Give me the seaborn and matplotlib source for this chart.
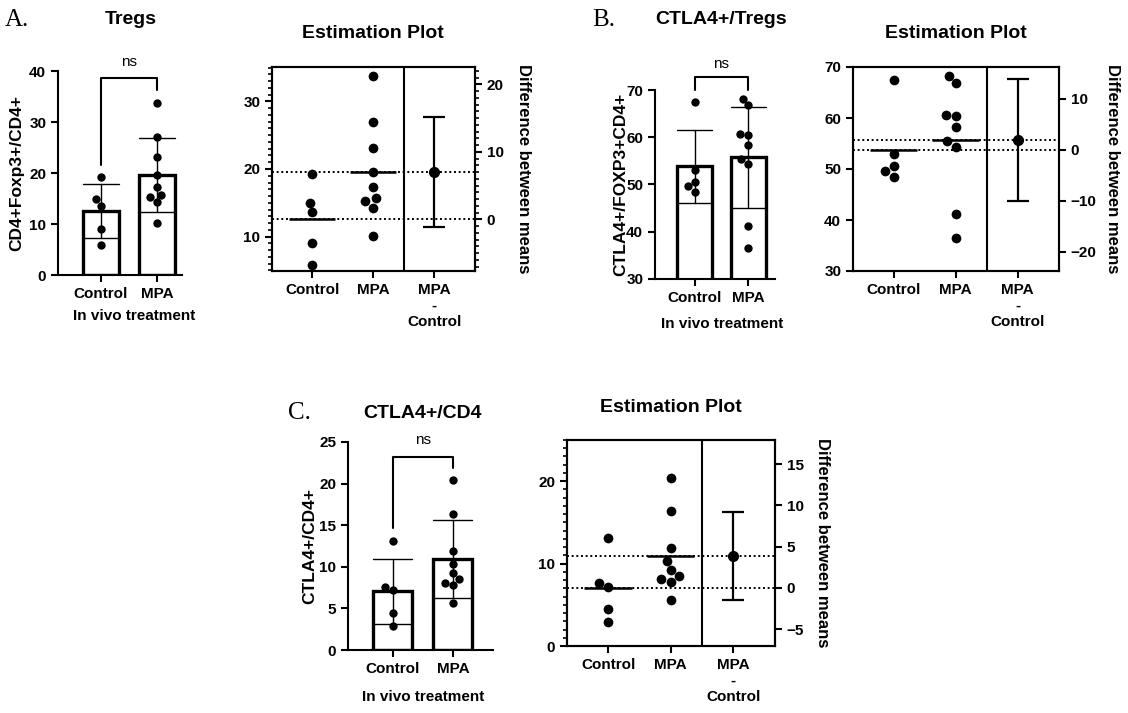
import numpy as np
import pandas as pd
import matplotlib
matplotlib.use("Agg")
import matplotlib.pyplot as plt
from matplotlib.ticker import MultipleLocator
import seaborn as sns

# groups and tick labels
groups = ["Control", "MPA"]
est_labels = ["Control", "MPA", "MPA\n-\nControl"]

# A. Tregs  (CD4+Foxp3+/CD4+)
tregs_control = [19.3, 15.0, 13.6, 9.0, 5.8]
tregs_mpa = [33.8, 27.0, 23.1, 19.6, 17.3, 15.2, 15.7, 14.3, 10.1]
tregs_diff_ci = [-1.2, 15.2]

# B. CTLA4+/Tregs  (CTLA4+/FOXP3+CD4+)
ctla4_tregs_control = [67.4, 53.0, 50.6, 49.6, 48.5]
ctla4_tregs_mpa = [68.2, 66.8, 60.6, 60.4, 58.3, 55.4, 54.4, 41.2, 36.5]
ctla4_tregs_diff_ci = [-10.0, 13.8]

# C. CTLA4+/CD4  (CTLA4+/CD4+)
ctla4_cd4_control = [13.1, 7.6, 7.2, 4.5, 2.9]
ctla4_cd4_mpa = [20.4, 16.4, 11.9, 10.3, 9.2, 8.5, 8.1, 7.8, 5.6]
ctla4_cd4_diff_ci = [-1.5, 9.2]

W, H = 1128, 713

sns.set_style("ticks")
plt.rcParams["font.family"] = ["Liberation Sans", "DejaVu Sans"]
plt.rcParams["font.weight"] = "bold"
plt.rcParams["axes.labelweight"] = "bold"
plt.rcParams["axes.linewidth"] = 1.5
for key in ["text.color", "axes.labelcolor", "axes.edgecolor", "xtick.color", "ytick.color"]:
    plt.rcParams[key] = "black"


def rect(l, t, r, b):
    # pixel box -> figure fraction
    return [l / W, 1 - b / H, (r - l) / W, (b - t) / H]


def long_df(ctrl, mpa):
    return pd.DataFrame({"group": ["Control"] * len(ctrl) + ["MPA"] * len(mpa),
                         "value": list(ctrl) + list(mpa)})


def draw_bar(ax, ctrl, mpa, ylabel, ylim, step, xlim, bracket, ylab_x, xlab_xy):
    df = long_df(ctrl, mpa)
    sns.barplot(data=df, x="group", y="value", order=groups, errorbar="sd",
                capsize=0.65, width=0.65, color="white", edgecolor="black",
                linewidth=2.4, err_kws={"color": "black", "linewidth": 1.0}, ax=ax)
    sns.swarmplot(data=df, x="group", y="value", order=groups, color="black",
                  size=6, ax=ax)
    ax.set_ylim(*ylim)
    ax.set_xlim(*xlim)
    ax.yaxis.set_major_locator(MultipleLocator(step))
    sns.despine(ax=ax)
    ax.tick_params(direction="out", length=5, width=1.5, labelsize=11)
    ax.set_ylabel(ylabel, fontsize=12.5)
    ax.yaxis.set_label_coords(ylab_x, 0.5)
    ax.set_xlabel("In vivo treatment", fontsize=11)
    ax.xaxis.set_label_coords(*xlab_xy)
    leg0, top, leg1, ns_y = bracket
    ax.plot([0, 0, 1, 1], [leg0, top, top, leg1], color="black", lw=1.5, clip_on=False)
    ax.text(0.5, ns_y, "ns", ha="center", va="center", fontsize=11,
            fontweight="normal", clip_on=False)


def draw_est(ax, ctrl, mpa, ci, ylim, major, minor, rmajor, rminor, rlab_x):
    df = long_df(ctrl, mpa)
    sns.swarmplot(data=df, x="group", y="value", order=groups, color="black",
                  size=7, ax=ax, zorder=3)
    m_c, m_m = np.mean(ctrl), np.mean(mpa)
    for i, m in enumerate([m_c, m_m]):
        ax.axhline(m, color="black", lw=1.4, ls=(0, (1, 1.4)), zorder=1)
        ax.hlines(m, i - 0.38, i + 0.38, color="black", lw=1.8, zorder=2)
    ax.axvline(1.5, color="black", lw=1.5)
    ax.set_xlim(-0.66, 2.67)
    ax.set_ylim(*ylim)
    ax.set_xticks([0, 1, 2])
    ax.set_xticklabels(est_labels)
    ax.set_xlabel("")
    ax.set_ylabel("")
    ax.yaxis.set_major_locator(MultipleLocator(major))
    if minor:
        ax.yaxis.set_minor_locator(MultipleLocator(minor))
    ax.tick_params(direction="out", length=5, width=1.5, labelsize=11)
    ax.tick_params(which="minor", direction="out", length=3, width=1.2)

    ax2 = ax.twinx()
    ax2.set_ylim(ylim[0] - m_c, ylim[1] - m_c)
    d = m_m - m_c
    ax2.errorbar([2], [d], yerr=[[d - ci[0]], [ci[1] - d]], fmt="o", color="black",
                 ms=7, capsize=8, elinewidth=1.6, capthick=1.6)
    ax2.yaxis.set_major_locator(MultipleLocator(rmajor))
    if rminor:
        ax2.yaxis.set_minor_locator(MultipleLocator(rminor))
    ax2.tick_params(direction="out", length=5, width=1.5, labelsize=11)
    ax2.tick_params(which="minor", direction="out", length=3, width=1.2)
    ax2.set_ylabel("Difference between means", rotation=-90, fontsize=12,
                   ha="center", va="center")
    ax2.yaxis.set_label_coords(rlab_x, 0.5)


fig = plt.figure(figsize=(W / 100, H / 100), dpi=100)

# A
ax = fig.add_axes(rect(58, 71, 182, 275))
draw_bar(ax, tregs_control, tregs_mpa, "CD4+Foxp3+/CD4+", (0, 40), 10,
         (-0.77, 1.45), (21.5, 38.6, 36.3, 41.8), -0.27, (0.61, -0.165))
ax = fig.add_axes(rect(272, 67, 475, 271))
draw_est(ax, tregs_control, tregs_mpa, tregs_diff_ci, (4.9, 35.1), 10, 1, 10, 1, 1.24)

# B
ax = fig.add_axes(rect(655, 90, 775, 279))
draw_bar(ax, ctla4_tregs_control, ctla4_tregs_mpa, "CTLA4+/FOXP3+CD4+", (30, 70), 10,
         (-0.74, 1.5), (70.0, 72.8, 70.0, 75.6), -0.225, (0.56, -0.2))
ax = fig.add_axes(rect(853, 67, 1059, 271))
draw_est(ax, ctla4_tregs_control, ctla4_tregs_mpa, ctla4_tregs_diff_ci, (30, 70),
         10, None, 10, None, 1.26)

# C
ax = fig.add_axes(rect(348, 442, 493, 650))
draw_bar(ax, ctla4_cd4_control, ctla4_cd4_mpa, "CTLA4+/CD4+", (0, 25), 5,
         (-0.75, 1.67), (14.7, 23.2, 21.9, 25.2), -0.21, (0.52, -0.19))
ax = fig.add_axes(rect(567, 440, 775, 646))
draw_est(ax, ctla4_cd4_control, ctla4_cd4_mpa, ctla4_cd4_diff_ci, (0, 25),
         10, 1, 5, None, 1.23)

# titles and panel letters
titles = [("Tregs", 131, 20), ("CTLA4+/Tregs", 721, 20), ("CTLA4+/CD4", 423, 413),
          ("Estimation Plot", 373, 33), ("Estimation Plot", 956, 33),
          ("Estimation Plot", 671, 408)]
for txt, x, y in titles:
    fig.text(x / W, 1 - y / H, txt, ha="center", va="center", fontsize=14,
             fontweight="bold")
for txt, x, y in [("A.", 5, 20), ("B.", 592, 20), ("C.", 288, 413)]:
    fig.text(x / W, 1 - y / H, txt, ha="left", va="center", fontsize=18,
             family="Liberation Serif", fontweight="normal")

fig.savefig("out.png", dpi=100)
